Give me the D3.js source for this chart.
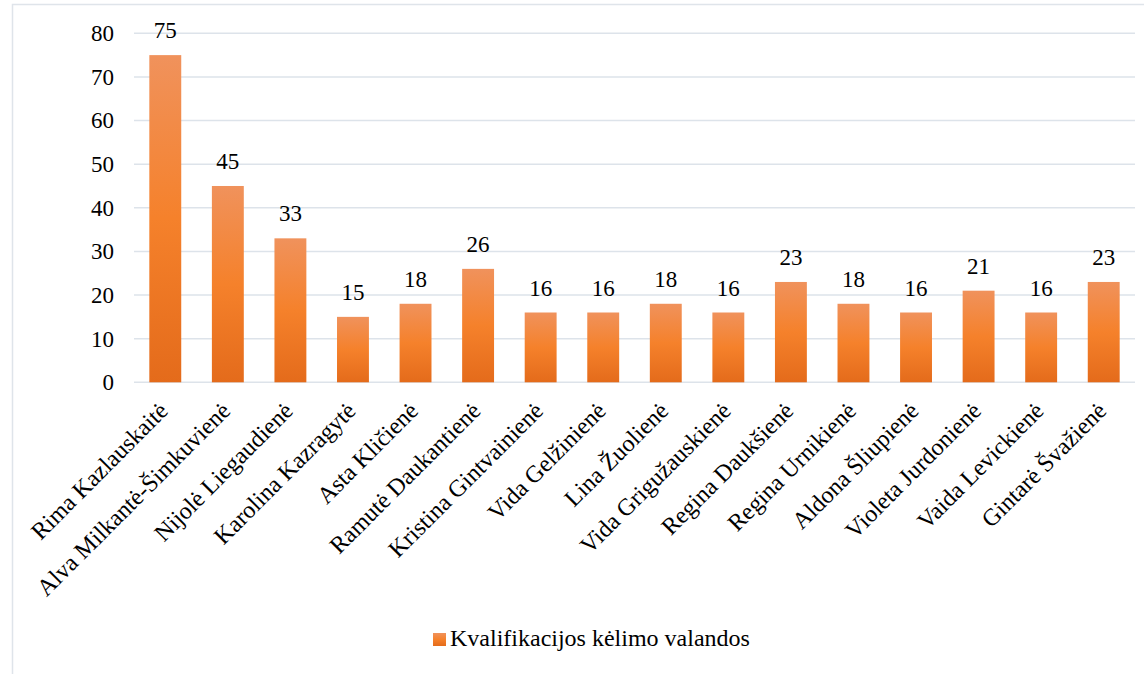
<!DOCTYPE html>
<html><head><meta charset="utf-8">
<script src="https://cdn.jsdelivr.net/npm/d3@7"></script>
<style>body{margin:0;background:#fff}svg{display:block}svg text{font-family:"Liberation Serif","Times New Roman",serif}</style>
</head><body>
<svg id="c" width="1144" height="674"></svg>
<script>
const categories = ["Rima Kazlauskaitė","Alva Milkantė-Šimkuvienė","Nijolė Liegaudienė","Karolina Kazragytė","Asta Kličienė","Ramutė Daukantienė","Kristina Gintvainienė","Vida Gelžinienė","Lina Žuolienė","Vida Grigužauskienė","Regina Daukšienė","Regina Urnikienė","Aldona Šliupienė","Violeta Jurdonienė","Vaida Levickienė","Gintarė Švažienė"];
const values = [75,45,33,15,18,26,16,16,18,16,23,18,16,21,16,23];
const yTicks = [0,10,20,30,40,50,60,70,80];
const seriesName = "Kvalifikacijos kėlimo valandos";

const svg = d3.select("#c");
const mLeft = 134, mRight = 1135, mTop = 33.3, mBottom = 382.3;

// frame
svg.append("path").attr("d","M12.5,674 V4.5 H1144").attr("fill","none").attr("stroke","#dfe4ea").attr("stroke-width",1.5);

const defs = svg.append("defs");
const g = defs.append("linearGradient").attr("id","og").attr("x1",0).attr("y1",0).attr("x2",0).attr("y2",1);
g.append("stop").attr("offset","0%").attr("stop-color","#f0925c");
g.append("stop").attr("offset","50%").attr("stop-color","#f5812b");
g.append("stop").attr("offset","100%").attr("stop-color","#e46b1b");

const x = d3.scaleBand().domain(categories).range([mLeft,mRight]).paddingInner(0.49).paddingOuter(0.245);
const y = d3.scaleLinear().domain([0,80]).range([mBottom,mTop]);

// gridlines
svg.append("g").selectAll("line").data(yTicks).join("line")
  .attr("x1",mLeft).attr("x2",mRight).attr("y1",d=>y(d)).attr("y2",d=>y(d))
  .attr("stroke","#dde3ea").attr("stroke-width",1.5);

// y axis labels
const yAxis = svg.append("g").attr("transform",`translate(${mLeft},0)`)
  .call(d3.axisLeft(y).tickValues(yTicks).tickSize(0).tickPadding(20));
yAxis.attr("font-family",null).attr("font-size",null);
yAxis.select(".domain").remove();
yAxis.selectAll("text").style("font-size","23px").attr("fill","#000");

// bars
svg.append("g").selectAll("rect").data(values).join("rect")
  .attr("x",(d,i)=>x(categories[i])).attr("width",x.bandwidth())
  .attr("y",d=>y(d)).attr("height",d=>y(0)-y(d)).attr("fill","url(#og)");

// value labels
svg.append("g").selectAll("text").data(values).join("text")
  .attr("x",(d,i)=>x(categories[i])+x.bandwidth()/2).attr("y",d=>y(d)-17)
  .attr("text-anchor","middle").style("font-size","23px").attr("fill","#000")
  .text(d=>d);

// x axis labels
const xAxis = svg.append("g").attr("transform",`translate(0,${mBottom})`)
  .call(d3.axisBottom(x).tickSize(0).tickPadding(0));
xAxis.attr("font-family",null).attr("font-size",null);
xAxis.select(".domain").remove();
xAxis.selectAll("text").style("font-size","24px").attr("fill","#000")
  .attr("text-anchor","end").attr("dy",null).attr("y",0)
  .attr("transform","translate(4,30) rotate(-45)");

// legend
const lg = svg.append("g");
lg.append("rect").attr("x",433).attr("y",633).attr("width",13).attr("height",13).attr("fill","url(#og)");
lg.append("text").attr("x",450).attr("y",646).style("font-size","24px").attr("fill","#000").text(seriesName);
</script>
</body></html>
